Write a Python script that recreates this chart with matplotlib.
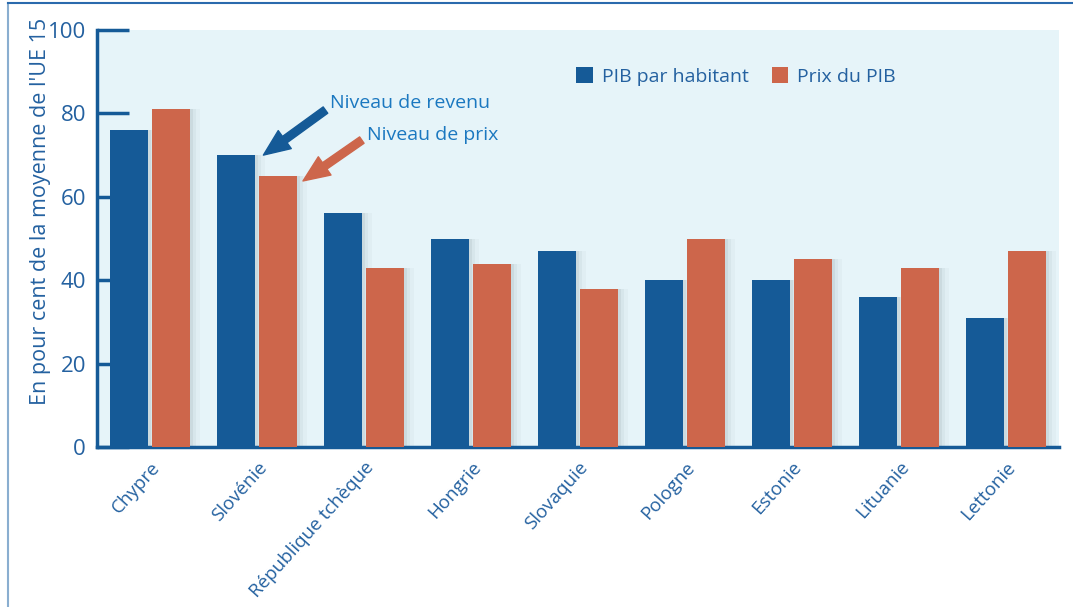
import numpy as np
import matplotlib.pyplot as plt
from matplotlib.lines import Line2D

# data
pays = ['Chypre', 'Slovénie', 'République tchèque', 'Hongrie', 'Slovaquie',
        'Pologne', 'Estonie', 'Lituanie', 'Lettonie']
pib_hab = [76, 70, 56, 50, 47, 40, 40, 36, 31]
prix_pib = [81, 65, 43, 44, 38, 50, 45, 43, 47]

blue = '#155a97'
orange = '#cd664b'
txt = '#2461a0'
txt2 = '#1b78c0'
bg = '#e6f4f9'

plt.rcParams['font.family'] = ['Open Sans', 'DejaVu Sans']

fig = plt.figure(figsize=(10.73, 6.07), dpi=100)
W, H = 1073, 607
ax = fig.add_axes([97 / W, (H - 447) / H, (1059 - 97) / W, (447 - 30) / H])
ax.set_facecolor(bg)

x = np.arange(len(pays))
w = 0.355
off = 0.196

# soft shadows behind the bars
for dx, a in [(0.03, 0.12), (0.06, 0.08), (0.09, 0.05)]:
    ax.bar(x - off + dx, pib_hab, w, color='#7a8a90', alpha=a, zorder=1)
    ax.bar(x + off + dx, prix_pib, w, color='#7a8a90', alpha=a, zorder=1)

ax.bar(x - off, pib_hab, w, color=blue, label='PIB par habitant', zorder=3)
ax.bar(x + off, prix_pib, w, color=orange, label='Prix du PIB', zorder=3)

ax.set_xlim(-0.495, len(pays) - 0.505)
ax.set_ylim(0, 100)
ax.set_yticks([0, 20, 40, 60, 80, 100])
ax.tick_params(axis='y', direction='in', length=23, width=2.5, color=blue,
               labelcolor=txt, labelsize=16, pad=8)
ax.set_xticks(x)
ax.set_xticklabels(pays, rotation=48, ha='right', va='top',
                   rotation_mode='anchor', color=txt, fontsize=13.5)
ax.tick_params(axis='x', length=0, pad=8)
for s in ['top', 'right']:
    ax.spines[s].set_visible(False)
for s in ['left', 'bottom']:
    ax.spines[s].set_color(blue)
    ax.spines[s].set_linewidth(2.5)

ax.set_ylabel("En pour cent de la moyenne de l'UE 15", color=txt, fontsize=15.5)
ax.yaxis.set_label_coords(-0.048, 0.565)

ax.legend(loc='center left', bbox_to_anchor=(0.48, 0.888), ncol=2,
          frameon=False, fontsize=14, labelcolor=txt, handlelength=0.85,
          handleheight=0.85, handletextpad=0.45, columnspacing=1.2)

# annotations: arrows and labels
astyle = 'simple,head_length=0.95,head_width=0.8,tail_width=0.28'
ax.annotate('', xy=(1.06, 70), xytext=(1.64, 80.8),
            arrowprops=dict(arrowstyle=astyle, color=blue, mutation_scale=20,
                            shrinkA=0, shrinkB=0))
ax.annotate('', xy=(1.43, 63.8), xytext=(1.98, 73.6),
            arrowprops=dict(arrowstyle=astyle, color=orange, mutation_scale=20,
                            shrinkA=0, shrinkB=0))
ax.text(1.68, 82.4, 'Niveau de revenu', color=txt2, fontsize=14,
        va='center', ha='left')
ax.text(2.03, 74.8, 'Niveau de prix', color=txt2, fontsize=14,
        va='center', ha='left')

# frame of the figure
fig.add_artist(Line2D([8 / W, 8 / W], [0, 1 - 3 / H], transform=fig.transFigure,
                      color='#8aaed0', lw=1.5))
fig.add_artist(Line2D([8 / W, 1], [1 - 3 / H, 1 - 3 / H], transform=fig.transFigure,
                      color='#2a6aad', lw=1.5))

fig.savefig('out.png', dpi=100)
